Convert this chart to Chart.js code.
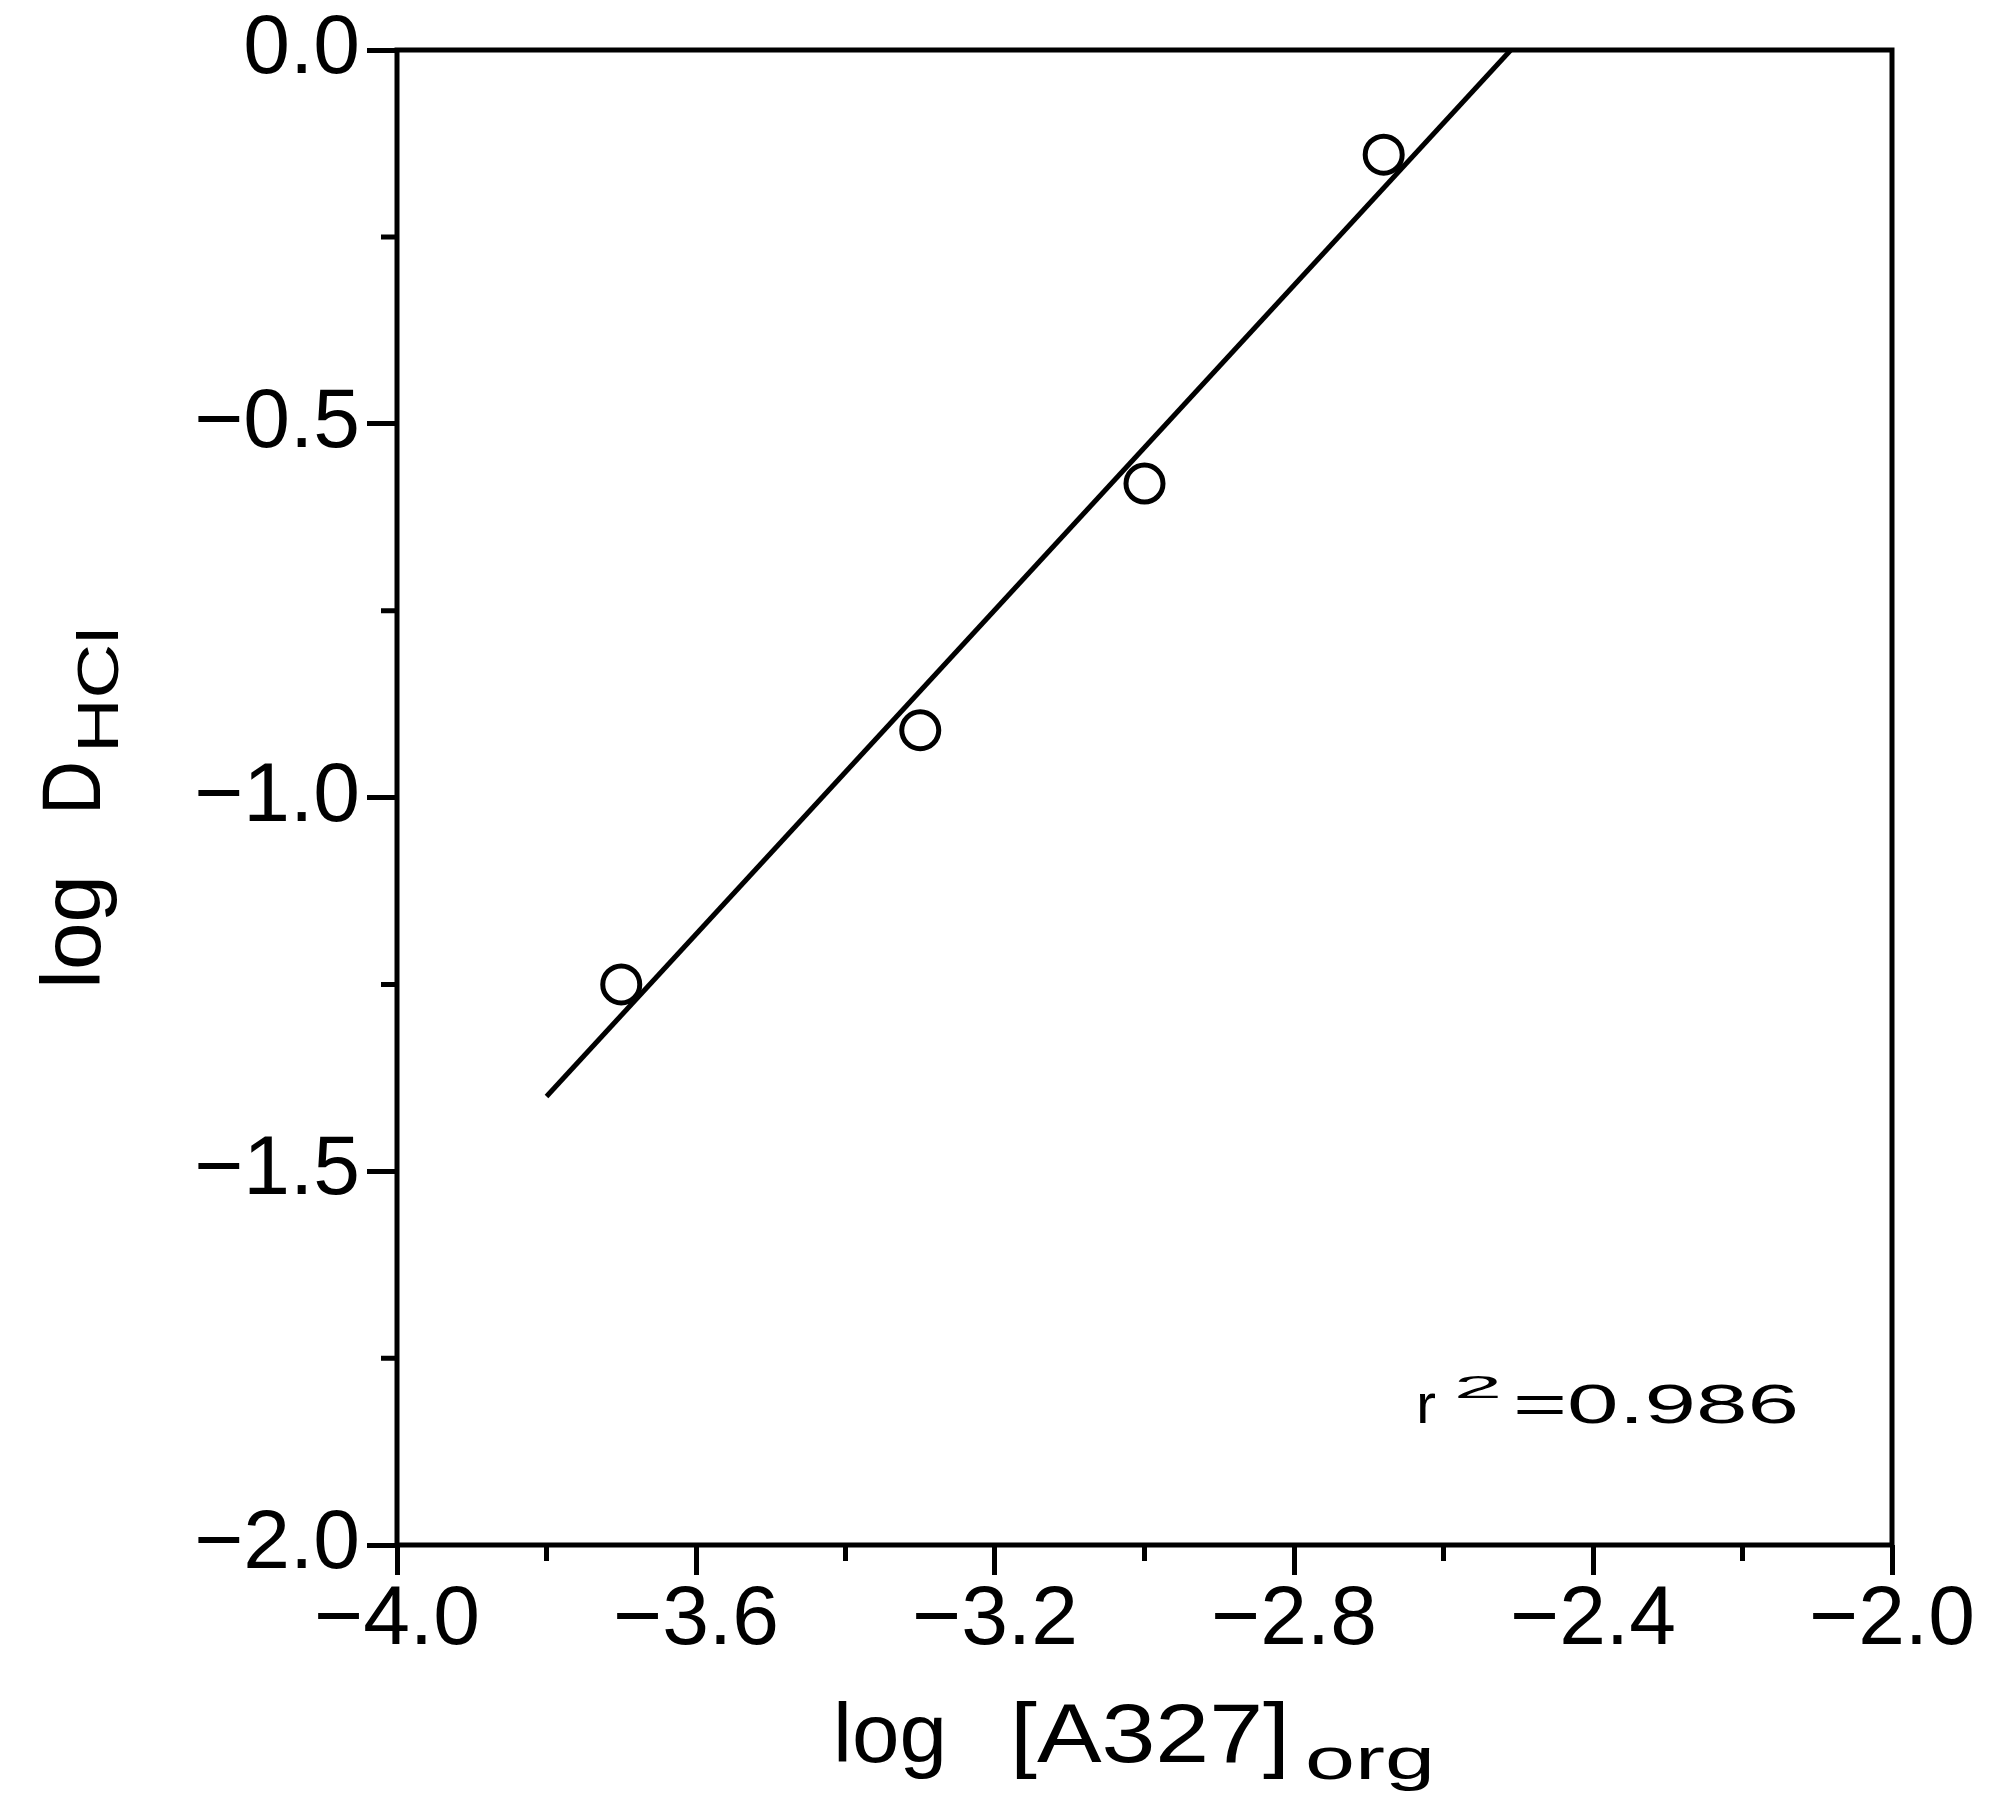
<!DOCTYPE html>
<html>
<head>
<meta charset="utf-8">
<script src="https://cdn.jsdelivr.net/npm/chart.js@4.4.1/dist/chart.umd.min.js"></script>
<style>
    body { margin: 0; background: #fff; }
    #holder { width: 1993px; height: 1808px; }
</style>
</head>
<body>
<div id="holder"><canvas id="distChart"></canvas></div>
<script>
// data
var logA327 = [-3.70, -3.30, -3.00, -2.68];
var logDHCl = [-1.25, -0.91, -0.58, -0.14];
// fitted line, end points
var fitX = [-3.80, -2.51];
var fitY = [-1.40, 0.00];
var r2Text = '=0.986';

var FONT = '"Liberation Sans", Arial, sans-serif';

function fmtTick(v) {
    if (Math.abs(v) < 1e-9) v = 0;
    return v.toFixed(1).replace('-', '\u2212');
}
function isMajorX(v) { return Math.round(v * 10) % 4 === 0; }
function isMajorY(v) { return Math.round(v * 4) % 2 === 0; }

// chữ kéo giãn ngang cho khớp độ rộng
function fitText(ctx, text, x, y, font, w) {
    ctx.font = font;
    var m = ctx.measureText(text).width;
    ctx.save();
    ctx.translate(x, y);
    ctx.scale(w / m, 1);
    ctx.fillText(text, 0, 0);
    ctx.restore();
}

//vẽ khung, vạch phụ, tiêu đề trục và chú thích r2
var decorPlugin = {
    id: 'decor',
    afterDraw: function (chart) {
        var ctx = chart.ctx;
        var a = chart.chartArea;
        var sx = chart.scales.x, sy = chart.scales.y;
        ctx.save();
        ctx.strokeStyle = '#000';
        ctx.lineWidth = 5;
        ctx.lineCap = 'butt';
        ctx.strokeRect(a.left, a.top, a.right - a.left, a.bottom - a.top);

        // minor ticks
        ctx.beginPath();
        sx.ticks.forEach(function (t) {
            if (isMajorX(t.value)) return;
            var px = sx.getPixelForValue(t.value);
            ctx.moveTo(px, a.bottom);
            ctx.lineTo(px, a.bottom + 16);
        });
        sy.ticks.forEach(function (t) {
            if (isMajorY(t.value)) return;
            var py = sy.getPixelForValue(t.value);
            ctx.moveTo(a.left, py);
            ctx.lineTo(a.left - 16, py);
        });
        ctx.stroke();

        ctx.fillStyle = '#000';
        ctx.textBaseline = 'alphabetic';
        ctx.textAlign = 'left';

        var big = '84px ' + FONT;

        // x title: log [A327]org
        var xb = a.bottom + 217;
        fitText(ctx, 'log', a.left + 436, xb, big, 114);
        fitText(ctx, '[A327]', a.left + 613, xb, big, 280);
        fitText(ctx, 'org', a.left + 908, xb + 17, '60px ' + FONT, 130);

        // y title: log D_HCl (rotated)
        ctx.save();
        ctx.translate(100, a.bottom - 558);
        ctx.rotate(-Math.PI / 2);
        fitText(ctx, 'log', -2, 0, big, 114);
        fitText(ctx, 'D', 172, 0, big, 54);
        fitText(ctx, 'HCl', 234, 18, '57px ' + FONT, 126);
        ctx.restore();

        // r2 note (wide lettering)
        var rb = a.bottom - 122;
        var rx = a.right - 476;
        fitText(ctx, 'r', rx, rb, '56px ' + FONT, 20);
        fitText(ctx, '2', rx + 38, rb - 25, '31px ' + FONT, 48);
        fitText(ctx, r2Text, rx + 97, rb, '56px ' + FONT, 286);

        ctx.restore();
    }
};

var ctxDist = document.getElementById('distChart');

var pointData = logA327.map(function (x, i) { return { x: x, y: logDHCl[i] }; });
var fitData = fitX.map(function (x, i) { return { x: x, y: fitY[i] }; });

var distChart = new Chart(ctxDist, {
    type: 'scatter',
    data: {
        datasets: [
            {
                label: 'fit',
                type: 'line',
                data: fitData,
                borderColor: '#000',
                borderWidth: 5,
                pointRadius: 0,
                fill: false,
                tension: 0
            },
            {
                label: 'data',
                data: pointData,
                pointStyle: 'circle',
                pointRadius: 18.5,
                pointBorderWidth: 5,
                borderColor: '#000',
                backgroundColor: 'rgba(0,0,0,0)'
            }
        ]
    },
    options: {
        responsive: true,
        maintainAspectRatio: false,
        animation: false,
        layout: { padding: { left: 0, top: 50, right: 101, bottom: 0 } },
        plugins: {
            legend: { display: false },
            tooltip: { enabled: false }
        },
        scales: {
            x: {
                type: 'linear',
                min: -4.0,
                max: -2.0,
                border: { display: false },
                grid: {
                    drawOnChartArea: false,
                    drawTicks: true,
                    tickLength: 30,
                    tickWidth: 5,
                    tickColor: function (c) { return c.tick && isMajorX(c.tick.value) ? '#000' : 'rgba(0,0,0,0)'; }
                },
                ticks: {
                    stepSize: 0.2,
                    autoSkip: false,
                    maxRotation: 0,
                    padding: 4,
                    color: '#000',
                    font: { family: FONT, size: 84, lineHeight: 1 },
                    callback: function (v) { return isMajorX(v) ? fmtTick(v) : ''; }
                },
                afterFit: function (s) { s.height = 263; }
            },
            y: {
                type: 'linear',
                min: -2.0,
                max: 0.0,
                border: { display: false },
                grid: {
                    drawOnChartArea: false,
                    drawTicks: true,
                    tickLength: 30,
                    tickWidth: 5,
                    tickColor: function (c) { return c.tick && isMajorY(c.tick.value) ? '#000' : 'rgba(0,0,0,0)'; }
                },
                ticks: {
                    stepSize: 0.25,
                    autoSkip: false,
                    padding: 7,
                    color: '#000',
                    font: { family: FONT, size: 84, lineHeight: 1 },
                    callback: function (v) { return isMajorY(v) ? fmtTick(v) : ''; }
                },
                afterFit: function (s) { s.width = 397; }
            }
        }
    },
    plugins: [decorPlugin]
});
</script>
</body>
</html>
